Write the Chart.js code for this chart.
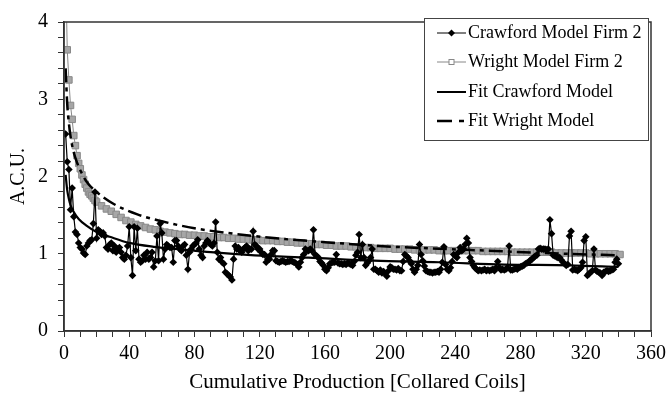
<!DOCTYPE html>
<html>
<head>
<meta charset="utf-8">
<script src="https://cdn.jsdelivr.net/npm/chart.js@4.4.1/dist/chart.umd.min.js"></script>
<style>
  html, body { margin: 0; padding: 0; background: #fff; }
  #wrap { width: 671px; height: 411px; position: relative; }
</style>
</head>
<body>
<div id="wrap"><canvas id="chart" width="671" height="411"></canvas></div>
<script>
// tick labels
const xLabels = [0, 40, 80, 120, 160, 200, 240, 280, 320, 360]
const yLabels = [0, 1, 2, 3, 4]

// Crawford Model Firm 2, one value per collared coil (x = 1 .. 340)
const crawfordFirm2 = [
  2.55, 2.19, 2.09, 1.57, 1.85, 1.48, 1.28, 1.25, 1.14, 1.08,
  1.06, 1.01, 0.99, 1.10, 1.14, 1.17, 1.18, 1.39, 1.80, 1.20,
  1.31, 1.29, 1.25, 1.27, 1.23, 1.08, 1.06, 1.12, 1.14, 1.04,
  1.10, 1.02, 1.06, 1.08, 1.02, 0.95, 0.93, 0.98, 1.10, 1.35,
  0.95, 0.72, 1.35, 1.04, 1.33, 0.93, 0.89, 0.91, 0.98, 0.93,
  1.02, 0.93, 0.95, 1.02, 0.83, 0.91, 1.23, 0.91, 1.39, 1.27,
  0.93, 1.06, 1.12, 1.10, 1.08, 1.08, 0.89, 1.17, 1.17, 1.10,
  1.06, 1.04, 1.10, 1.12, 0.98, 0.80, 1.02, 1.06, 1.10, 1.12,
  1.14, 1.18, 1.06, 0.98, 0.95, 1.10, 1.14, 1.17, 1.14, 1.12,
  1.10, 1.14, 1.41, 1.02, 0.93, 0.95, 0.89, 0.87, 0.76, 0.74,
  0.72, 0.70, 0.66, 0.93, 1.10, 1.06, 1.08, 1.04, 1.02, 1.06,
  1.08, 1.10, 1.04, 1.06, 1.06, 1.29, 1.12, 1.10, 1.06, 1.06,
  1.02, 0.99, 0.99, 0.89, 0.93, 0.93, 0.99, 1.04, 1.04, 0.91,
  0.90, 0.89, 0.90, 0.91, 0.90, 0.89, 0.90, 0.90, 0.91, 0.90,
  0.89, 0.88, 0.86, 0.83, 0.89, 0.95, 0.99, 1.06, 1.04, 1.04,
  1.06, 1.04, 1.31, 0.99, 0.97, 0.95, 0.90, 0.88, 0.85, 0.80,
  0.78, 0.82, 0.87, 0.88, 0.89, 0.89, 0.99, 0.88, 0.87, 0.87,
  0.86, 0.87, 0.86, 0.88, 0.87, 0.86, 0.85, 0.90, 0.98, 1.02,
  1.25, 0.95, 1.12, 0.95, 0.85, 0.88, 0.91, 0.95, 1.06, 0.80,
  0.80, 0.78, 0.76, 0.79, 0.75, 0.77, 0.74, 0.71, 0.78, 0.83,
  0.82, 0.80, 0.80, 0.79, 0.81, 0.78, 0.78, 0.90, 0.99, 0.97,
  0.95, 0.91, 0.87, 0.80, 0.76, 0.80, 0.85, 1.12, 0.99, 0.91,
  0.84, 0.78, 0.77, 0.76, 0.76, 0.75, 0.76, 0.76, 0.77, 0.76,
  0.80, 0.89, 1.09, 0.86, 0.80, 0.78, 0.82, 0.90, 0.99, 0.97,
  0.95, 1.02, 1.08, 1.04, 1.06, 1.12, 1.20, 1.14, 0.95, 0.90,
  0.85, 0.82, 0.80, 0.78, 0.79, 0.78, 0.79, 0.80, 0.78, 0.79,
  0.78, 0.79, 0.80, 0.78, 0.82, 0.90, 0.82, 0.79, 0.80, 0.79,
  0.80, 0.82, 1.10, 0.79, 0.79, 0.80, 0.81, 0.80, 0.82, 0.83,
  0.84, 0.85, 0.87, 0.88, 0.89, 0.92, 0.93, 0.95, 0.97, 0.98,
  1.06, 1.07, 1.06, 1.06, 1.06, 1.05, 1.06, 1.44, 1.26, 0.98,
  0.97, 0.96, 0.95, 0.95, 0.92, 0.89, 0.87, 0.85, 0.86, 1.23,
  1.29, 0.79, 0.80, 0.79, 0.78, 0.80, 0.82, 0.89, 1.17, 1.22,
  0.72, 0.74, 0.76, 0.78, 1.06, 0.79, 0.77, 0.76, 0.75, 0.72,
  0.76, 0.77, 0.78, 0.77, 0.78, 0.79, 0.80, 0.89, 0.93, 0.87
]

// Wright Model Firm 2 [x, A.C.U.]
const wrightFirm2 = [
  [1, 4.7], [2, 3.64], [3, 3.25], [4, 2.92], [5, 2.74], [6, 2.53], [7, 2.40], [8, 2.27], [9, 2.17], [10, 2.10],
  [11, 2.02], [12, 1.96], [13, 1.90], [14, 1.85], [15, 1.80], [16, 1.77], [17, 1.75], [18, 1.72], [19, 1.69], [20, 1.67],
  [23, 1.62], [26, 1.58], [29, 1.55], [32, 1.51], [35, 1.47], [38, 1.43], [41, 1.41], [44, 1.38], [47, 1.36], [50, 1.34],
  [53, 1.32], [56, 1.31], [59, 1.29], [62, 1.28], [65, 1.27], [68, 1.26], [71, 1.25], [74, 1.25], [77, 1.24], [80, 1.24],
  [83, 1.23], [86, 1.23], [89, 1.22], [92, 1.22], [95, 1.21], [98, 1.21], [101, 1.20], [104, 1.20], [107, 1.19], [110, 1.19],
  [113, 1.18], [116, 1.18], [119, 1.18], [122, 1.17], [125, 1.17], [128, 1.17], [131, 1.16], [134, 1.16], [137, 1.15], [140, 1.15],
  [143, 1.14], [146, 1.14], [149, 1.13], [152, 1.13], [155, 1.12], [158, 1.12], [161, 1.11], [164, 1.11], [167, 1.10], [170, 1.10],
  [173, 1.10], [176, 1.09], [179, 1.09], [182, 1.08], [185, 1.08], [188, 1.08], [191, 1.07], [194, 1.07], [197, 1.07], [200, 1.07],
  [203, 1.06], [206, 1.06], [209, 1.06], [212, 1.06], [215, 1.05], [218, 1.05], [221, 1.05], [224, 1.05], [227, 1.05], [230, 1.04],
  [233, 1.04], [236, 1.04], [239, 1.04], [242, 1.04], [245, 1.04], [248, 1.04], [251, 1.04], [254, 1.04], [257, 1.03], [260, 1.03],
  [263, 1.03], [266, 1.03], [269, 1.03], [272, 1.03], [275, 1.02], [278, 1.02], [281, 1.02], [284, 1.02], [287, 1.02], [290, 1.02],
  [293, 1.02], [296, 1.02], [299, 1.02], [302, 1.01], [305, 1.01], [308, 1.01], [311, 1.01], [314, 1.01], [317, 1.01], [320, 1.01],
  [323, 1.00], [326, 1.00], [329, 1.00], [332, 1.00], [335, 1.00], [338, 1.00], [341, 0.99]
]

// fitted curves
const fitCrawford = [
  [1, 2.02], [2, 1.82], [3, 1.71], [4, 1.63], [6, 1.54], [9, 1.45], [14, 1.36], [20, 1.28], [28, 1.22], [40, 1.14],
  [55, 1.09], [70, 1.06], [90, 1.02], [117, 0.98], [150, 0.95], [190, 0.91], [230, 0.89], [270, 0.86], [310, 0.85], [340, 0.83]
]
const fitWright = [
  [1, 3.4], [2, 2.93], [3, 2.69], [4, 2.52], [6, 2.31], [8, 2.18], [10, 2.08], [14, 1.93], [20, 1.80], [30, 1.65],
  [45, 1.51], [60, 1.42], [80, 1.33], [100, 1.27], [130, 1.20], [160, 1.15], [193, 1.10], [230, 1.065], [260, 1.04], [300, 1.005], [340, 0.98]
]

const serif = "'Liberation Serif', 'Times New Roman', serif"
const axisColor = '#333'

function toPoints(pairs) {
    return pairs.map(p => ({x: p[0], y: p[1]}))
}

// box round the plot + legend inside it
const framePlugin = {
    id: 'frame',
    afterDraw(chart) {
        const ctx = chart.ctx
        const a = chart.chartArea
        ctx.save()
        ctx.strokeStyle = axisColor
        ctx.lineWidth = 1.5
        ctx.strokeRect(a.left, a.top, a.right - a.left, a.bottom - a.top)

        // legend
        const bx = 424, by = 18, bw = 224, bh = 122
        ctx.fillStyle = '#fff'
        ctx.fillRect(bx, by, bw, bh)
        ctx.strokeStyle = '#444'
        ctx.lineWidth = 1
        ctx.strokeRect(bx + 0.5, by + 0.5, bw, bh)
        ctx.font = '18px ' + serif
        ctx.textBaseline = 'middle'
        ctx.textAlign = 'left'
        const rows = [33, 62, 92, 121]
        chart.data.datasets.forEach((ds, i) => {
            const y = rows[i]
            const x0 = 437, x1 = 466
            ctx.save()
            ctx.strokeStyle = ds.borderColor
            ctx.lineWidth = ds.borderDash ? 2.5 : (ds.pointStyle ? 1 : 2)
            if (ds.borderDash) ctx.setLineDash([15, 7, 5, 10])
            ctx.beginPath()
            ctx.moveTo(x0, y)
            ctx.lineTo(x1, y)
            ctx.stroke()
            ctx.restore()
            const cx = (x0 + x1) / 2
            if (ds.pointStyle == 'rectRot') {
                ctx.fillStyle = '#000'
                ctx.beginPath()
                ctx.moveTo(cx, y - 3.5); ctx.lineTo(cx + 3.5, y); ctx.lineTo(cx, y + 3.5); ctx.lineTo(cx - 3.5, y)
                ctx.closePath()
                ctx.fill()
            } else if (ds.pointStyle == 'rect') {
                ctx.fillStyle = '#fff'
                ctx.strokeStyle = ds.pointBorderColor
                ctx.lineWidth = 1
                ctx.fillRect(cx - 2.5, y - 2.5, 5, 5)
                ctx.strokeRect(cx - 2.5, y - 2.5, 5, 5)
            }
            ctx.fillStyle = '#000'
            ctx.fillText(ds.label, 468, y)
        })
        ctx.restore()
    }
}

const ctx = document.getElementById('chart')
const myChart = new Chart(ctx, {
    type: 'line',
    data: {
        datasets: [{
            label: 'Crawford Model Firm 2',
            data: crawfordFirm2.map((v, i) => ({x: i + 1, y: v})),
            borderColor: '#000',
            borderWidth: 1.2,
            pointStyle: 'rectRot',
            pointRadius: 3.8,
            pointBackgroundColor: '#000',
            pointBorderColor: '#000',
            pointBorderWidth: 0,
            order: 0
        }, {
            label: 'Wright Model Firm 2',
            data: toPoints(wrightFirm2),
            borderColor: '#888',
            borderWidth: 1,
            pointStyle: 'rect',
            pointRadius: 4.6,
            pointBackgroundColor: '#a6a6a6',
            pointBorderColor: '#888',
            pointBorderWidth: 1,
            order: 3
        }, {
            label: 'Fit Crawford Model',
            data: toPoints(fitCrawford),
            borderColor: '#000',
            borderWidth: 2.2,
            pointRadius: 0,
            cubicInterpolationMode: 'monotone',
            order: 2
        }, {
            label: 'Fit Wright Model',
            data: toPoints(fitWright),
            borderColor: '#000',
            borderWidth: 2.5,
            borderDash: [14, 5, 4, 5],
            pointRadius: 0,
            cubicInterpolationMode: 'monotone',
            order: 1
        }]
    },
    options: {
        responsive: false,
        animation: false,
        devicePixelRatio: 1,
        layout: { padding: { top: 13, right: 19, left: 0, bottom: 0 } },
        plugins: { legend: { display: false }, tooltip: { enabled: false } },
        scales: {
            x: {
                type: 'linear',
                min: 0,
                max: 360,
                afterFit: (s) => { s.height = 80 },
                grid: { drawOnChartArea: false, drawTicks: true, tickLength: 6, color: axisColor },
                border: { color: axisColor, width: 1.5 },
                ticks: {
                    stepSize: 10,
                    maxTicksLimit: 100,
                    autoSkip: false,
                    maxRotation: 0,
                    padding: 5,
                    color: '#000',
                    font: { family: serif, size: 20 },
                    callback: (v) => xLabels.includes(v) ? String(v) : ''
                },
                title: {
                    display: true,
                    text: 'Cumulative Production [Collared Coils]',
                    color: '#000',
                    font: { family: serif, size: 21 },
                    padding: { top: 4, bottom: 16 }
                }
            },
            y: {
                min: 0,
                max: 4,
                afterFit: (s) => { s.width = 64 },
                grid: { drawOnChartArea: false, drawTicks: true, tickLength: 6, color: axisColor },
                border: { color: axisColor, width: 1.5 },
                ticks: {
                    stepSize: 0.2,
                    maxTicksLimit: 100,
                    autoSkip: false,
                    padding: 10,
                    color: '#000',
                    font: { family: serif, size: 20 },
                    callback: (v) => {
                        const r = Math.round(v)
                        return (Math.abs(v - r) < 1e-6 && yLabels.includes(r)) ? String(r) : ''
                    }
                },
                title: {
                    display: true,
                    text: 'A.C.U.',
                    color: '#000',
                    font: { family: serif, size: 20 },
                    padding: { top: 7, bottom: 4 }
                }
            }
        }
    },
    plugins: [framePlugin]
})
</script>
</body>
</html>
